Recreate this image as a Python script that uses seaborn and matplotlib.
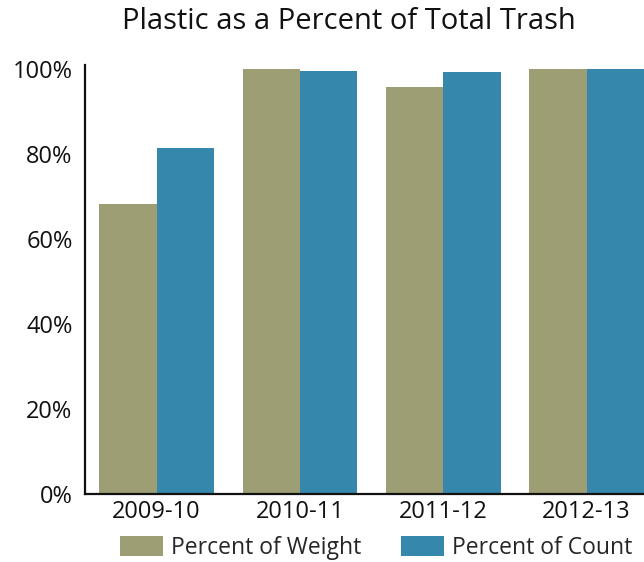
import matplotlib
matplotlib.use("Agg")
import matplotlib.pyplot as plt
from matplotlib.patches import Patch
import seaborn as sns
import pandas as pd

years = ["2009-10", "2010-11", "2011-12", "2012-13"]
weight = [68.2, 100.0, 95.9, 100.0]
count = [81.6, 99.7, 99.5, 100.0]
series = ["Percent of Weight", "Percent of Count"]
colors = ["#9e9e74", "#3588ab"]

df = pd.DataFrame({
    "year": years * 2,
    "value": weight + count,
    "series": [series[0]] * len(years) + [series[1]] * len(years),
})

sns.set_style("white")
plt.rcParams["font.family"] = ["Open Sans", "DejaVu Sans"]

fig = plt.figure(figsize=(6.44, 5.62), dpi=100)
ax = fig.add_axes([0.132, 0.121, 0.868, 0.763])

sns.barplot(data=df, x="year", y="value", hue="series", palette=colors,
            width=0.8, saturation=1, linewidth=0, ax=ax, legend=False)

ax.set_xlim(-0.5, 3.4)
ax.set_ylim(0, 101)
ax.set_yticks([0, 20, 40, 60, 80, 100])
ax.set_yticklabels([f"{v}%" for v in [0, 20, 40, 60, 80, 100]])
ax.set_xlabel("")
ax.set_ylabel("")
ax.tick_params(axis="both", length=0, labelsize=17, colors="#111111")
ax.tick_params(axis="y", pad=9)
ax.tick_params(axis="x", pad=4)

sns.despine(ax=ax, top=True, right=True)
for s in ["left", "bottom"]:
    ax.spines[s].set_color("#111111")
    ax.spines[s].set_linewidth(1.6)

fig.text(0.542, 0.961, "Plastic as a Percent of Total Trash", ha="center",
         va="center", fontsize=21, color="#111111")

handles = [Patch(facecolor=c, edgecolor="none") for c in colors]
fig.legend(handles, series, loc="center", bbox_to_anchor=(0.584, 0.025),
           ncol=2, frameon=False, fontsize=16.5, handlelength=1.9,
           handleheight=1.0, handletextpad=0.35, columnspacing=1.7)

fig.savefig("out.png", dpi=100)
